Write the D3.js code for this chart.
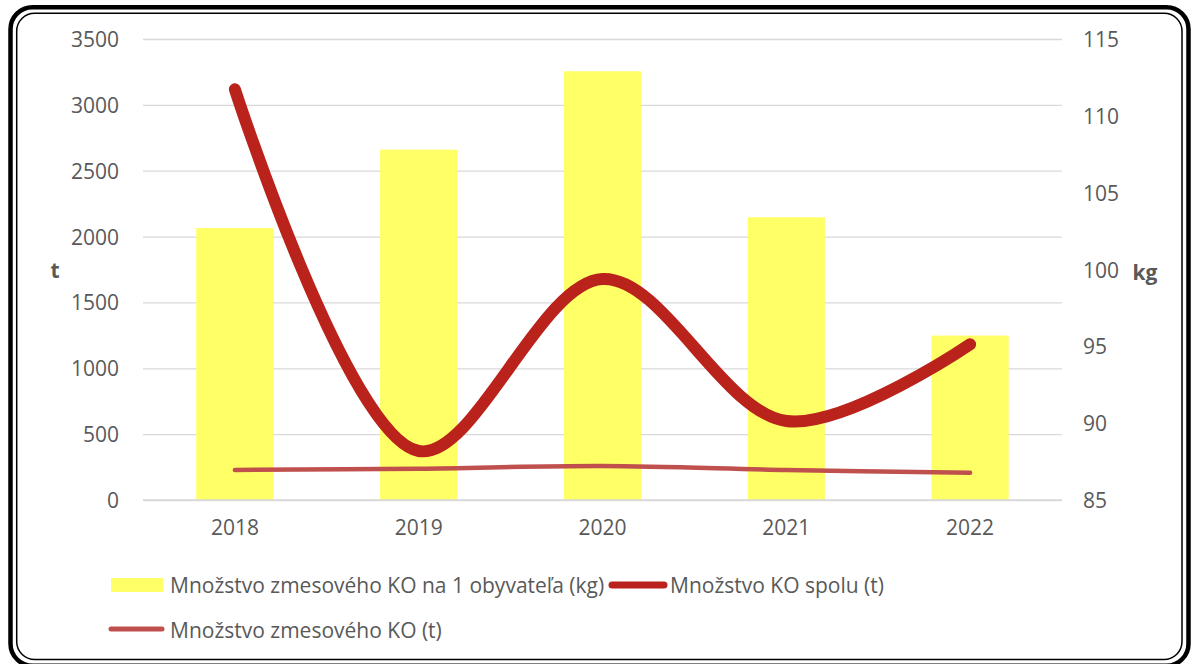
<!DOCTYPE html>
<html>
<head>
<meta charset="utf-8">
<script src="https://cdn.jsdelivr.net/npm/d3@7"></script>
<style>
  body { margin: 0; background: #fff; }
  svg text { font-family: "Open Sans", sans-serif; fill: #595959; }
</style>
</head>
<body>
<svg id="chart" width="1192" height="664"></svg>
<script>
// data
var years = ["2018", "2019", "2020", "2021", "2022"];
var kgPerPerson = [102.7, 107.8, 112.9, 103.4, 95.7];   // bars, right axis (kg)
var totalKO = [3118, 372, 1678, 600, 1182];             // thick line, left axis (t)
var mixedKO = [228, 238, 258, 228, 207];                // thin line, left axis (t)
var leftTicks = [0, 500, 1000, 1500, 2000, 2500, 3000, 3500];
var rightTicks = [85, 90, 95, 100, 105, 110, 115];

var barName = "Množstvo zmesového KO na 1 obyvateľa (kg)";
var totalName = "Množstvo KO spolu (t)";
var mixedName = "Množstvo zmesového KO (t)";

var fs = "21px";
var svg = d3.select("#chart");

// double rounded frame
svg.append("rect")
	.attr("x", 10.5).attr("y", 7.2)
	.attr("width", 1178).attr("height", 658.5)
	.attr("rx", 22).attr("ry", 22)
	.attr("fill", "none").attr("stroke", "#000").attr("stroke-width", 4.5);
svg.append("rect")
	.attr("x", 16.7).attr("y", 13.3)
	.attr("width", 1165.3).attr("height", 646.2)
	.attr("rx", 18).attr("ry", 18)
	.attr("fill", "#fff").attr("stroke", "#000").attr("stroke-width", 1.5);

var plot = {left: 143, right: 1062, top: 39, bottom: 500};

var x = d3.scaleBand().domain(years).range([plot.left, plot.right]).paddingInner(0.58).paddingOuter(0.29);
var yL = d3.scaleLinear().domain([0, 3500]).range([plot.bottom, plot.top]);
var yR = d3.scaleLinear().domain([85, 115]).range([plot.bottom, plot.top]);
var cx = function(d, i) { return x(years[i]) + x.bandwidth() / 2; };

// gridlines + left axis
var gl = svg.append("g")
	.attr("transform", "translate(" + plot.left + ",0)")
	.call(d3.axisLeft(yL).tickValues(leftTicks).tickFormat(d3.format("d"))
		.tickSize(-(plot.right - plot.left)).tickPadding(24));
gl.select(".domain").remove();
gl.selectAll(".tick line").attr("stroke", "#d9d9d9").attr("stroke-width", 1.3);
gl.selectAll(".tick text").style("font-size", fs).attr("dy", "0.36em");

// right axis
var gr = svg.append("g")
	.attr("transform", "translate(" + plot.right + ",0)")
	.call(d3.axisRight(yR).tickValues(rightTicks).tickFormat(d3.format("d")).tickSize(0).tickPadding(21));
gr.select(".domain").remove();
gr.selectAll(".tick text").style("font-size", fs).attr("dy", "0.36em");

// bottom axis labels
var gb = svg.append("g")
	.attr("transform", "translate(0," + plot.bottom + ")")
	.call(d3.axisBottom(x).tickSize(0).tickPadding(20));
gb.select(".domain").remove();
gb.selectAll(".tick text").style("font-size", fs);

// axis titles
svg.append("text").attr("x", 55).attr("y", 278).attr("text-anchor", "middle")
	.style("font-size", fs).style("font-weight", "bold").text("t");
svg.append("text").attr("x", 1145).attr("y", 280).attr("text-anchor", "middle")
	.style("font-size", fs).style("font-weight", "bold").text("kg");

// bars
svg.append("g").selectAll("rect")
	.data(kgPerPerson)
	.join("rect")
	.attr("x", function(d, i) { return x(years[i]); })
	.attr("width", x.bandwidth())
	.attr("y", function(d) { return yR(d); })
	.attr("height", function(d) { return plot.bottom - yR(d); })
	.attr("fill", "#ffff66");

// baseline
svg.append("line")
	.attr("x1", plot.left).attr("x2", plot.right)
	.attr("y1", plot.bottom).attr("y2", plot.bottom)
	.attr("stroke", "#d9d9d9").attr("stroke-width", 1.3);

var line = d3.line()
	.x(cx)
	.y(function(d) { return yL(d); })
	.curve(d3.curveCatmullRom.alpha(0.5));

svg.append("path")
	.attr("d", line(mixedKO))
	.attr("fill", "none")
	.attr("stroke", "#c0504d")
	.attr("stroke-width", 4.5)
	.attr("stroke-linecap", "round");

svg.append("path")
	.attr("d", line(totalKO))
	.attr("fill", "none")
	.attr("stroke", "#ba221c")
	.attr("stroke-width", 12)
	.attr("stroke-linecap", "round");

// legend
var legend = svg.append("g").style("font-size", fs);
legend.append("rect").attr("x", 111).attr("y", 578).attr("width", 52).attr("height", 14).attr("fill", "#ffff66");
legend.append("text").attr("x", 170).attr("y", 585).attr("dy", "0.36em").text(barName);
legend.append("line").attr("x1", 612).attr("x2", 664).attr("y1", 585).attr("y2", 585)
	.attr("stroke", "#ba221c").attr("stroke-width", 7).attr("stroke-linecap", "round");
legend.append("text").attr("x", 670).attr("y", 585).attr("dy", "0.36em").text(totalName);
legend.append("line").attr("x1", 111).attr("x2", 162).attr("y1", 629).attr("y2", 629)
	.attr("stroke", "#c0504d").attr("stroke-width", 5).attr("stroke-linecap", "round");
legend.append("text").attr("x", 170).attr("y", 630).attr("dy", "0.36em").text(mixedName);
</script>
</body>
</html>
